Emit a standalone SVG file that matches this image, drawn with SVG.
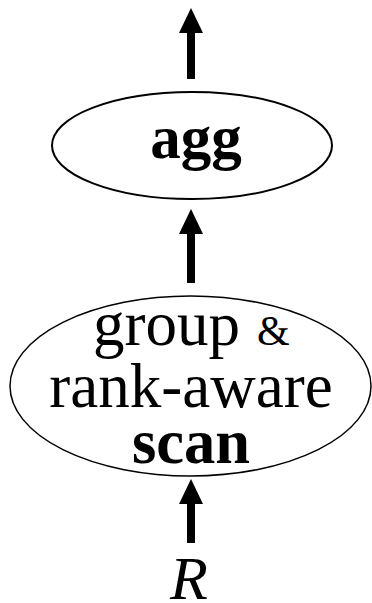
<svg xmlns="http://www.w3.org/2000/svg" width="372" height="603" viewBox="0 0 372 603">
  <style>
    .shape { fill: #ffffff; stroke: #000000; }
    .lbl { font-family: "Liberation Serif", "Times New Roman", serif; fill: #000000; }
    .bold { font-weight: bold; }
    .flow { stroke: #000000; stroke-width: 8; fill: none; marker-end: url(#head); }
  </style>
  <defs>
    <marker id="head" markerUnits="userSpaceOnUse" markerWidth="26" markerHeight="24" refX="1" refY="12" orient="auto" viewBox="0 0 26 24">
      <path d="M0,0 L25,12 L0,24 Z" fill="#000000"/>
    </marker>
  </defs>

  <rect width="372" height="603" fill="#ffffff"/>

  <!-- data flow arrows -->
  <g id="connectors">
    <line class="flow" x1="191" y1="79" x2="191" y2="32"/>
    <line class="flow" x1="191" y1="283" x2="191" y2="233"/>
    <line class="flow" x1="191" y1="543" x2="191" y2="503"/>
  </g>

  <!-- aggregation operator -->
  <g id="agg">
    <ellipse class="shape" cx="192" cy="145.5" rx="140" ry="53.5" stroke-width="2"/>
    <text class="lbl bold" x="196" y="158" font-size="61" text-anchor="middle">agg</text>
  </g>

  <!-- scan operator -->
  <g id="scan">
    <ellipse class="shape" cx="190.5" cy="386" rx="180.5" ry="90" stroke-width="1.5"/>
    <text class="lbl" y="345" font-size="63"><tspan x="93">group</tspan><tspan x="257" font-size="42">&amp;</tspan></text>
    <text class="lbl" x="191" y="407" font-size="63" text-anchor="middle">rank-aware</text>
    <text class="lbl bold" x="191" y="463" font-size="62.5" text-anchor="middle">scan</text>
  </g>

  <!-- input relation -->
  <g id="R">
    <text class="lbl" x="170" y="599" font-size="62" font-style="italic">R</text>
  </g>
</svg>
